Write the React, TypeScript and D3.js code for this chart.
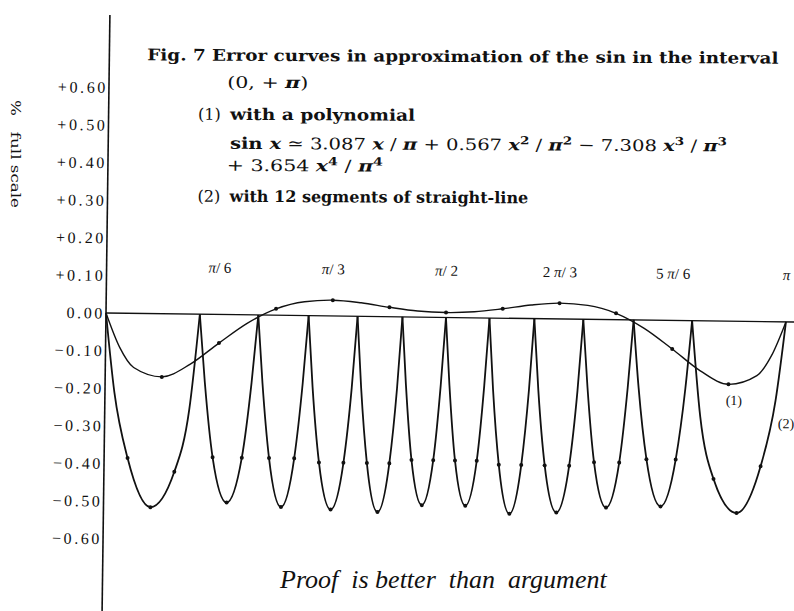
import React from 'react';
import * as d3 from 'd3';

const W = 794;
const H = 611;

// Vertical axis: error in % of full scale
const tickValues = [0.6, 0.5, 0.4, 0.3, 0.2, 0.1, 0, -0.1, -0.2, -0.3, -0.4, -0.5, -0.6];
const tickLabels = ['+0.60', '+0.50', '+0.40', '+0.30', '+0.20', '+0.10', '0.00', '−0.10', '−0.20', '−0.30', '−0.40', '−0.50', '−0.60'];

// Angle marks along the zero line, in units of π
const angleTicks = [1 / 6, 1 / 3, 1 / 2, 2 / 3, 5 / 6, 1];
const angleLabels: [string, string, string][] = [
  ['', 'π', '/ 6'],
  ['', 'π', '/ 3'],
  ['', 'π', '/ 2'],
  ['2 ', 'π', '/ 3'],
  ['5 ', 'π', '/ 6'],
  ['', 'π', ''],
];

// Curve (1): polynomial error, x in units of π, error in % full scale
const polyX = [0, 0.0208, 0.0417, 0.0833, 0.125, 0.1667, 0.2083, 0.25, 0.2917, 0.3333, 0.375, 0.4167, 0.4583, 0.5,
  0.5417, 0.5833, 0.625, 0.6667, 0.7083, 0.75, 0.7917, 0.8333, 0.875, 0.9167, 0.9583, 0.9792, 1];
const polyErr = [0, -0.091, -0.144, -0.168, -0.133, -0.076, -0.022, 0.017, 0.037, 0.042, 0.036, 0.025, 0.016, 0.013,
  0.016, 0.025, 0.036, 0.042, 0.037, 0.017, -0.022, -0.076, -0.133, -0.168, -0.144, -0.091, 0];

// Curve (2): 12 straight-line segments; breakpoints in units of π
const segBreaks = [0, 0.138, 0.224, 0.298, 0.37, 0.436, 0.5, 0.564, 0.63, 0.702, 0.776, 0.862, 1.0];
// sample positions inside each segment (fraction of segment length)
const segFrac = [0, 0.1, 0.25, 0.5, 0.75, 0.9, 1];
// error at those samples, % full scale
const segErr = [
  [0, -0.21, -0.385, -0.515, -0.42, -0.255, 0],
  [0, -0.18, -0.38, -0.5, -0.38, -0.18, 0],
  [0, -0.18, -0.38, -0.51, -0.38, -0.18, 0],
  [0, -0.19, -0.39, -0.515, -0.39, -0.19, 0],
  [0, -0.19, -0.39, -0.52, -0.39, -0.19, 0],
  [0, -0.18, -0.38, -0.5, -0.38, -0.18, 0],
  [0, -0.18, -0.38, -0.5, -0.38, -0.18, 0],
  [0, -0.19, -0.39, -0.52, -0.39, -0.19, 0],
  [0, -0.19, -0.39, -0.515, -0.39, -0.19, 0],
  [0, -0.18, -0.38, -0.5, -0.38, -0.18, 0],
  [0, -0.18, -0.37, -0.495, -0.37, -0.18, 0],
  [0, -0.255, -0.42, -0.51, -0.385, -0.21, 0],
];
const segDotFrac = [0.25, 0.5, 0.75];

const x = d3.scaleLinear().domain([0, 1]).range([106, 786]);
const y = d3.scaleLinear().domain([-0.6, 0.6]).range([313 + 225.6, 313 - 225.6]);

const lineGen = d3
  .line<[number, number]>()
  .x((d) => x(d[0]))
  .y((d) => y(d[1]))
  .curve(d3.curveMonotoneX);

type Piece = [string, 'r' | 'b' | 'bi' | 'sup'];

function renderPieces(pieces: Piece[]) {
  let raised = false;
  return pieces.map(([t, s], i) => {
    let dy: number | undefined;
    if (s === 'sup' && !raised) {
      dy = -6;
      raised = true;
    } else if (s !== 'sup' && raised) {
      dy = 6;
      raised = false;
    }
    const props: any = { key: i, dy };
    if (s === 'b') props.fontWeight = 'bold';
    if (s === 'bi') {
      props.fontWeight = 'bold';
      props.fontStyle = 'italic';
    }
    if (s === 'sup') {
      props.fontWeight = 'bold';
      props.fontSize = 11;
    }
    return <tspan {...props}>{t}</tspan>;
  });
}

const formulaLine: Piece[] = [
  ['sin  ', 'b'], ['x', 'bi'], [' ≃ 3.087 ', 'r'], ['x', 'bi'], [' / ', 'r'], ['π', 'bi'],
  [' + 0.567 ', 'r'], ['x', 'bi'], ['2', 'sup'], [' / ', 'r'], ['π', 'bi'], ['2', 'sup'],
  [' − 7.308 ', 'r'], ['x', 'bi'], ['3', 'sup'], [' / ', 'r'], ['π', 'bi'], ['3', 'sup'],
];
const formulaLine2: Piece[] = [
  ['+ 3.654 ', 'r'], ['x', 'bi'], ['4', 'sup'], [' / ', 'r'], ['π', 'bi'], ['4', 'sup'],
];

export default function App() {
  const polyPts: [number, number][] = polyX.map((v, i) => [v, polyErr[i]]);
  const polyDots = polyPts.filter(([t]) => t > 0 && t < 1 && Math.abs(t * 12 - Math.round(t * 12)) < 0.01);

  const segments = segErr.map((vals, k) => {
    const a = segBreaks[k];
    const b = segBreaks[k + 1];
    const pts: [number, number][] = segFrac.map((f, i) => [a + f * (b - a), vals[i]]);
    const dots = pts.filter((_, i) => segDotFrac.includes(segFrac[i]));
    return { pts, dots };
  });

  const ink = '#111';
  const serif = '"DejaVu Serif", serif';
  const times = '"Liberation Serif", serif';

  return (
    <svg width={W} height={H} style={{ position: 'absolute', left: 0, top: 0, background: '#fff' }}>
      <rect width={W} height={H} fill="#fff" />

      {/* title block */}
      <g fontFamily={serif} fontSize={16} fill={ink} transform="rotate(0.3 460 130)" style={{ whiteSpace: 'pre' }}>
        <text x={147} y={62} fontWeight="bold" textLength={631} lengthAdjust="spacingAndGlyphs">
          Fig. 7   Error curves in approximation of  the sin in the interval
        </text>
        <text x={227} y={89} textLength={81} lengthAdjust="spacingAndGlyphs">
          {'(0,  + '}
          <tspan fontWeight="bold" fontStyle="italic">π</tspan>
          {')'}
        </text>
        <text x={198} y={121}>(1)</text>
        <text x={230} y={121} fontWeight="bold" textLength={185} lengthAdjust="spacingAndGlyphs">
          with  a  polynomial
        </text>
        <text x={230} y={150} textLength={497} lengthAdjust="spacingAndGlyphs">
          {renderPieces(formulaLine)}
        </text>
        <text x={227} y={172} textLength={156} lengthAdjust="spacingAndGlyphs">
          {renderPieces(formulaLine2)}
        </text>
        <text x={198} y={203}>(2)</text>
        <text x={230} y={203} fontWeight="bold">
          with  12  segments  of  straight-line
        </text>
      </g>

      {/* axis title */}
      <text
        transform="translate(11 100) rotate(90)"
        fontFamily={serif}
        fontSize={13}
        fill={ink}
        textLength={108}
        lengthAdjust="spacingAndGlyphs"
        style={{ whiteSpace: 'pre' }}
      >
        %   full scale
      </text>

      {/* plot */}
      <g transform={`rotate(0.75 ${x(0)} ${y(0)})`}>
        <line x1={x(0)} x2={x(0)} y1={15} y2={630} stroke={ink} strokeWidth={1.6} />
        <line x1={x(0)} x2={812} y1={y(0)} y2={y(0)} stroke={ink} strokeWidth={1.3} />

        {tickValues.map((v, i) => (
          <text
            key={v}
            x={x(0) - 1}
            y={y(v)}
            dy="0.35em"
            textAnchor="end"
            fontFamily={times}
            fontSize={16}
            letterSpacing={2.6}
            fill={ink}
          >
            {tickLabels[i]}
          </text>
        ))}

        {angleTicks.map((t, i) => (
          <text
            key={i}
            x={x(t)}
            y={y(0.125)}
            dy="0.35em"
            textAnchor="middle"
            fontFamily={times}
            fontSize={15}
            fill={ink}
            style={{ whiteSpace: 'pre' }}
          >
            {angleLabels[i][0]}
            <tspan fontStyle="italic">{angleLabels[i][1]}</tspan>
            {angleLabels[i][2]}
          </text>
        ))}

        {/* curve (2): straight-line segments */}
        {segments.map((s, k) => (
          <g key={k}>
            <path d={lineGen(s.pts) || ''} fill="none" stroke={ink} strokeWidth={1.8} />
            {s.dots.map((d, j) => (
              <circle key={j} cx={x(d[0])} cy={y(d[1])} r={2} fill={ink} />
            ))}
          </g>
        ))}

        {/* curve (1): polynomial */}
        <path d={lineGen(polyPts) || ''} fill="none" stroke={ink} strokeWidth={1.4} />
        {polyDots.map((d, j) => (
          <circle key={j} cx={x(d[0])} cy={y(d[1])} r={2} fill={ink} />
        ))}

        <text x={x(0.925)} y={y(-0.21)} dy="0.35em" textAnchor="middle" fontFamily={times} fontSize={14} fill={ink}>
          (1)
        </text>
        <text x={x(0.99)} y={y(-0.27)} dy="0.35em" fontFamily={times} fontSize={14} fill={ink}>
          (2)
        </text>
      </g>

      <text x={280} y={588} fontFamily={times} fontStyle="italic" fontSize={26} fill={ink} style={{ whiteSpace: 'pre' }}>
        Proof  is better  than  argument
      </text>
    </svg>
  );
}
